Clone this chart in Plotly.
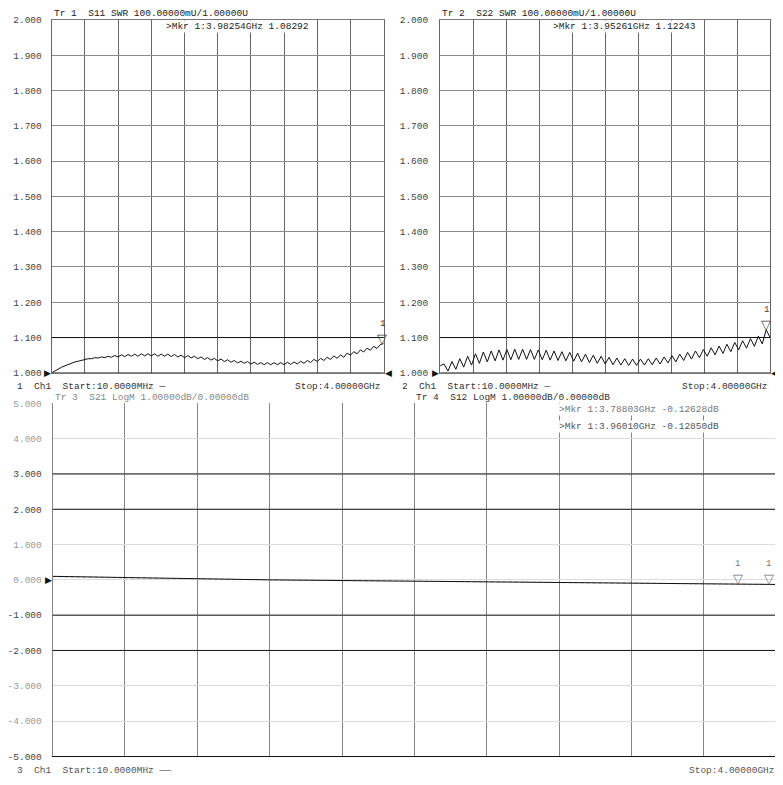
import numpy as np
import plotly.graph_objects as go

# page body has an 8px default margin: lay the figure out so that it lands on the 783x785 window
OFF = 8
W, H = 783 - OFF, 785 - OFF
def px(x):
    return (x - OFF) / W
def py(y):
    return 1 - (y - OFF) / H

# ---------------- data ----------------
START_GHZ = 0.01
STOP_GHZ = 4.0

s11_swr = [1.000, 1.006, 1.011, 1.016, 1.020, 1.024, 1.027, 1.031, 1.033, 1.036,
           1.037, 1.040, 1.040, 1.043, 1.042, 1.045, 1.043, 1.047, 1.044, 1.049,
           1.045, 1.051, 1.046, 1.052, 1.047, 1.053, 1.047, 1.054, 1.048, 1.054,
           1.048, 1.054, 1.047, 1.053, 1.047, 1.053, 1.046, 1.052, 1.045, 1.050,
           1.043, 1.049, 1.042, 1.047, 1.040, 1.045, 1.038, 1.043, 1.036, 1.041,
           1.034, 1.039, 1.032, 1.037, 1.030, 1.035, 1.028, 1.033, 1.027, 1.032,
           1.025, 1.030, 1.024, 1.029, 1.023, 1.029, 1.023, 1.029, 1.023, 1.029,
           1.023, 1.030, 1.024, 1.031, 1.025, 1.033, 1.027, 1.035, 1.029, 1.038,
           1.032, 1.041, 1.035, 1.044, 1.038, 1.048, 1.041, 1.051, 1.044, 1.056,
           1.050, 1.060, 1.054, 1.065, 1.059, 1.070, 1.064, 1.075, 1.069, 1.080,
           1.083]

s22_swr = [1.020, 1.025, 1.005, 1.032, 1.010, 1.040, 1.016, 1.047, 1.022, 1.054,
           1.027, 1.059, 1.031, 1.062, 1.034, 1.065, 1.036, 1.066, 1.037, 1.067,
           1.038, 1.067, 1.038, 1.066, 1.038, 1.065, 1.037, 1.064, 1.036, 1.062,
           1.035, 1.060, 1.034, 1.058, 1.033, 1.056, 1.031, 1.053, 1.029, 1.050,
           1.027, 1.047, 1.025, 1.044, 1.023, 1.042, 1.022, 1.040, 1.021, 1.039,
           1.021, 1.039, 1.022, 1.040, 1.023, 1.042, 1.025, 1.045, 1.028, 1.049,
           1.031, 1.053, 1.035, 1.058, 1.039, 1.062, 1.043, 1.066, 1.047, 1.071,
           1.051, 1.076, 1.055, 1.081, 1.060, 1.086, 1.065, 1.091, 1.070, 1.097,
           1.075, 1.104, 1.082, 1.122, 1.100]

s21_db = [0.100, 0.090, 0.080, 0.070, 0.060, 0.050, 0.040, 0.030, 0.020, 0.015,
          0.010, 0.005, 0.000, -0.005, -0.010, -0.015, -0.020, -0.025, -0.030, -0.035,
          -0.040, -0.045, -0.050, -0.055, -0.060, -0.065, -0.070, -0.075, -0.080, -0.085,
          -0.090, -0.095, -0.100, -0.105, -0.110, -0.113, -0.118, -0.122, -0.126, -0.128,
          -0.130]

s12_db = [0.090, 0.085, 0.075, 0.068, 0.058, 0.048, 0.038, 0.030, 0.022, 0.014,
          0.008, 0.002, -0.003, -0.008, -0.013, -0.018, -0.022, -0.027, -0.032, -0.037,
          -0.042, -0.047, -0.052, -0.057, -0.062, -0.067, -0.072, -0.077, -0.082, -0.087,
          -0.092, -0.097, -0.102, -0.107, -0.111, -0.115, -0.119, -0.123, -0.127, -0.129,
          -0.131]

# markers: (freq GHz, value)
mkr_s11 = (3.98254, 1.08292)
mkr_s22 = (3.95261, 1.12243)
mkr_s21 = (3.78803, -0.12628)
mkr_s12 = (3.96010, -0.12850)

swr_ticks = [1.0, 1.1, 1.2, 1.3, 1.4, 1.5, 1.6, 1.7, 1.8, 1.9, 2.0]
swr_dark = [1.0, 1.1]
db_ticks = [5, 4, 3, 2, 1, 0, -1, -2, -3, -4, -5]
db_dark = [3, 2, -1, -2, -5]

# ---------------- figure ----------------
FONT = "Liberation Mono"
FS = 9.5
f11 = np.linspace(START_GHZ, STOP_GHZ, len(s11_swr))
f22 = np.linspace(START_GHZ, STOP_GHZ, len(s22_swr))
f21 = np.linspace(START_GHZ, STOP_GHZ, len(s21_db))
f12 = np.linspace(START_GHZ, STOP_GHZ, len(s12_db))
fgrid = list(np.linspace(START_GHZ, STOP_GHZ, 11)[1:-1])

fig = go.Figure()
fig.add_trace(go.Scatter(x=f11, y=s11_swr, mode="lines", line=dict(color="#111", width=1),
                         xaxis="x", yaxis="y", showlegend=False))
fig.add_trace(go.Scatter(x=f22, y=s22_swr, mode="lines", line=dict(color="#111", width=1),
                         xaxis="x2", yaxis="y2", showlegend=False))
fig.add_trace(go.Scatter(x=f12, y=s12_db, mode="lines", line=dict(color="#aaa", width=1, dash="dot"),
                         xaxis="x3", yaxis="y3", showlegend=False))
fig.add_trace(go.Scatter(x=f21, y=s21_db, mode="lines", line=dict(color="#111", width=1),
                         xaxis="x3", yaxis="y3", showlegend=False))

def fmt(v):
    return f"{v:.3f}"

common_x = dict(range=[START_GHZ, STOP_GHZ], tickvals=fgrid, showticklabels=False,
                showgrid=True, zeroline=False, ticks="", fixedrange=True)

layout = dict(
    width=W, height=H, margin=dict(l=0, r=0, t=0, b=0),
    paper_bgcolor="white", plot_bgcolor="white",
    font=dict(family=FONT, size=FS, color="#333"),
    showlegend=False,
    xaxis=dict(domain=[px(45), px(380)], anchor="y", gridcolor="#666", gridwidth=1,
               showline=True, linecolor="#777", mirror=True, **common_x),
    yaxis=dict(domain=[py(373), py(15)], anchor="x", range=[1.0, 2.0], tickvals=swr_ticks,
               ticktext=[fmt(v) for v in swr_ticks], gridcolor="#8a8a8a", showline=True,
               linecolor="#666", mirror=True, zeroline=False, ticks="", ticklabelstandoff=7,
               tickfont=dict(family=FONT, size=FS, color="#444"), fixedrange=True),
    xaxis2=dict(domain=[px(437), px(770)], anchor="y2", gridcolor="#666",
                showline=True, linecolor="#777", mirror=True, **common_x),
    yaxis2=dict(domain=[py(373), py(15)], anchor="x2", range=[1.0, 2.0], tickvals=swr_ticks,
                ticktext=[fmt(v) for v in swr_ticks], gridcolor="#8a8a8a", showline=True,
                linecolor="#666", mirror=True, zeroline=False, ticks="", ticklabelstandoff=9,
                tickfont=dict(family=FONT, size=FS, color="#444"), fixedrange=True),
    xaxis3=dict(domain=[px(46), px(776)], anchor="y3", gridcolor="#858585",
                showline=True, linecolor="#111", mirror=False, **common_x),
    yaxis3=dict(domain=[py(762), py(404)], anchor="x3", range=[-5, 5], tickvals=db_ticks,
                ticktext=[(f'<span style="color:#444">{fmt(v)}</span>' if v in db_dark
                           else f'<span style="color:#999">{fmt(v)}</span>') for v in db_ticks],
                gridcolor="#dcdcdc", showline=True, linecolor="#858585", mirror=True,
                zeroline=False, ticks="", ticklabelstandoff=8,
                tickfont=dict(family=FONT, size=FS, color="#999"), fixedrange=True),
)

shapes = []
for ax in ("", "2"):
    for v in swr_dark:
        shapes.append(dict(type="line", xref="paper", yref=f"y{ax}",
                           x0=layout[f"xaxis{ax}"]["domain"][0], x1=layout[f"xaxis{ax}"]["domain"][1],
                           y0=v, y1=v, line=dict(color="#111", width=1), layer="above"))
for v in [3, 2, -1, -2]:
    shapes.append(dict(type="line", xref="paper", yref="y3",
                       x0=layout["xaxis3"]["domain"][0], x1=layout["xaxis3"]["domain"][1],
                       y0=v, y1=v, line=dict(color="#111", width=1), layer="above"))
layout["shapes"] = shapes

ann = []
def text(x, y, s, anchor="left", color="#222", size=FS, bg=None):
    d = dict(x=px(x), y=py(y), xref="paper", yref="paper", text=s, showarrow=False,
             xanchor=anchor, yanchor="middle", font=dict(family=FONT, size=size, color=color))
    if bg:
        d["bgcolor"] = bg
        d["borderpad"] = 0
    ann.append(d)

# headers
text(45, 9, "Tr 1  S11 SWR 100.00000mU/1.00000U", color="#222")
text(159, 22, "&gt;Mkr 1:3.98254GHz 1.08292", color="#222", bg="white")
text(437, 9, "Tr 2  S22 SWR 100.00000mU/1.00000U", color="#222")
text(550, 22, "&gt;Mkr 1:3.95261GHz 1.12243", color="#222", bg="white")
# channel footers
text(8, 387, "1  Ch1  Start:10.0000MHz \u2014", color="#333")
text(379, 387, "Stop:4.00000GHz", anchor="right", color="#333")
text(397, 387, "2  Ch1  Start:10.0000MHz \u2014", color="#333")
text(770, 387, "Stop:4.00000GHz", anchor="right", color="#333")
text(46, 398, "Tr 3  S21 LogM 1.00000dB/0.00000dB", color="#888")
text(411, 398, "Tr 4  S12 LogM 1.00000dB/0.00000dB", color="#333")
text(556, 410, "&gt;Mkr 1:3.78803GHz -0.12628dB", color="#777", bg="white")
text(556, 427, "&gt;Mkr 1:3.96010GHz -0.12850dB", color="#555", bg="white")
text(8, 776, "3  Ch1  Start:10.0000MHz \u2014\u2014", color="#555")
text(777, 776, "Stop:4.00000GHz", anchor="right", color="#555")

# marker triangles
def marker(xa, ya, pt, color, size=13):
    ann.append(dict(x=pt[0], y=pt[1], xref=xa, yref=ya, text="\u25bd", showarrow=False,
                    xanchor="center", yanchor="bottom", yshift=-4,
                    font=dict(family="DejaVu Sans", size=size, color=color)))
    ann.append(dict(x=pt[0], y=pt[1], xref=xa, yref=ya, text="1", showarrow=False,
                    xanchor="center", yanchor="bottom", yshift=13,
                    font=dict(family=FONT, size=9, color=color)))

marker("x", "y", mkr_s11, "#444")
marker("x2", "y2", mkr_s22, "#444")
marker("x3", "y3", mkr_s21, "#777")
marker("x3", "y3", mkr_s12, "#777")

# reference level arrows
def ref_arrows(xa, ya, level):
    ann.append(dict(x=START_GHZ, y=level, xref=xa, yref=ya, text="\u25b6", showarrow=False,
                    xanchor="right", yanchor="middle", xshift=1,
                    font=dict(family="DejaVu Sans", size=9, color="#111")))
    ann.append(dict(x=STOP_GHZ, y=level, xref=xa, yref=ya, text="\u25c0", showarrow=False,
                    xanchor="left", yanchor="middle", xshift=-1,
                    font=dict(family="DejaVu Sans", size=9, color="#111")))

ref_arrows("x", "y", 1.0)
ref_arrows("x2", "y2", 1.0)
ref_arrows("x3", "y3", 0.0)

layout["annotations"] = ann
fig.update_layout(**layout)
fig.write_html("out.html")
